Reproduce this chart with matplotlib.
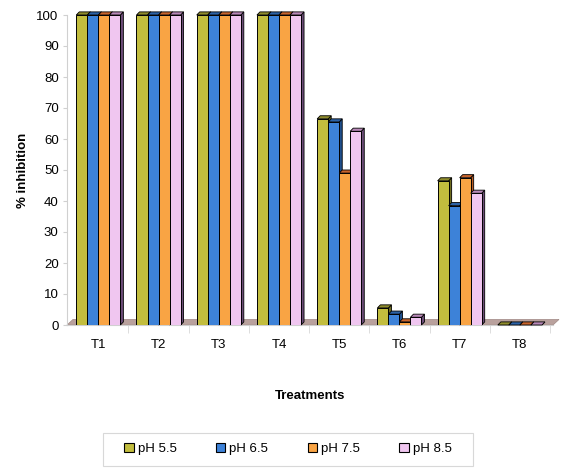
import matplotlib
matplotlib.use("Agg")
import matplotlib.pyplot as plt
from matplotlib.patches import Polygon, Patch, Rectangle
import numpy as np

plt.rcParams['font.family'] = ['Liberation Sans', 'DejaVu Sans']

treatments = ["T1", "T2", "T3", "T4", "T5", "T6", "T7", "T8"]
series_names = ["pH 5.5", "pH 6.5", "pH 7.5", "pH 8.5"]
ph55 = [100, 100, 100, 100, 66.5, 5.5, 46.5, 0]
ph65 = [100, 100, 100, 100, 65.5, 3.5, 38.5, 0]
ph75 = [100, 100, 100, 100, 49.0, 1.0, 47.5, 0]
ph85 = [100, 100, 100, 100, 62.5, 2.5, 42.5, 0]
series = [ph55, ph65, ph75, ph85]

front_colors = ["#c2bd3e", "#3d82d8", "#f9a444", "#f0c6f0"]
side_colors = ["#6e6b1e", "#1f4f8c", "#b85a22", "#6c4c78"]
top_colors = ["#8f8c2c", "#2c62a6", "#c8642c", "#b888b8"]

fig = plt.figure(figsize=(5.62, 4.68), dpi=100)
ax = fig.add_axes([67 / 562, 143 / 468, 486 / 562, 310 / 468])

x = np.arange(len(treatments))
bw = 0.183
dx, dy = 0.05, 1.0
xl, xr = -0.52, 7.55

# floor of the 3D chart
floor = Polygon([(xl, 0), (xr, 0), (xr + 0.1, 1.8), (xl + 0.1, 1.8)],
                closed=True, facecolor="#b9a19d", edgecolor="#a08884",
                lw=0.5, zorder=1, clip_on=False)
ax.add_patch(floor)

for s, vals in enumerate(series):
    offs = (s - 1.5) * bw
    for i, v in enumerate(vals):
        x0 = x[i] + offs - bw / 2
        x1 = x0 + bw
        z = 2 + s * 3
        side = Polygon([(x1, 0), (x1 + dx, dy), (x1 + dx, v + dy), (x1, v)],
                       closed=True, facecolor=side_colors[s], edgecolor="black",
                       lw=0.6, zorder=z, clip_on=False)
        top = Polygon([(x0, v), (x1, v), (x1 + dx, v + dy), (x0 + dx, v + dy)],
                      closed=True, facecolor=top_colors[s], edgecolor="black",
                      lw=0.6, zorder=z + 1, clip_on=False)
        ax.add_patch(side)
        ax.add_patch(top)
    ax.bar(x + offs, vals, width=bw, color=front_colors[s], edgecolor="black",
           linewidth=0.7, zorder=4 + s * 3)

ax.set_xlim(xl, xr)
ax.set_ylim(0, 100)
ax.set_yticks(range(0, 101, 10))
ax.set_xticks(x)
ax.set_xticklabels(treatments)
ax.set_xticks(np.arange(0.5, 7.6, 1.0), minor=True)

for sp in ["top", "right"]:
    ax.spines[sp].set_visible(False)
ax.spines["left"].set_color("#d0d0d0")
ax.spines["bottom"].set_color("#d0d0d0")
ax.tick_params(axis="y", colors="#d0d0d0", labelcolor="black", labelsize=9.5,
               length=3, pad=3)
ax.tick_params(axis="x", which="major", length=0, labelsize=9.5, pad=10)
ax.tick_params(axis="x", which="minor", length=6, color="#d8d8d8")

ax.set_ylabel("% inhibition", fontsize=9.5, fontweight="bold", labelpad=5)
ax.set_xlabel("Treatments", fontsize=9.5, fontweight="bold", labelpad=28)

# legend box
fig.patches.append(Rectangle((103 / 562, 1 - 466 / 468), 370 / 562, 33 / 468,
                             transform=fig.transFigure, facecolor="white",
                             edgecolor="#d8d8d8", linewidth=0.8))
handles = [Patch(facecolor=c, edgecolor="black", linewidth=0.8) for c in front_colors]
leg = fig.legend(handles, series_names, loc="center", bbox_to_anchor=(288 / 562, 1 - 449 / 468),
                 ncol=4, frameon=False, fontsize=9.5,
                 handlelength=0.7, handleheight=0.7, handletextpad=0.3,
                 columnspacing=3.0)

fig.savefig("out.png", dpi=100)
